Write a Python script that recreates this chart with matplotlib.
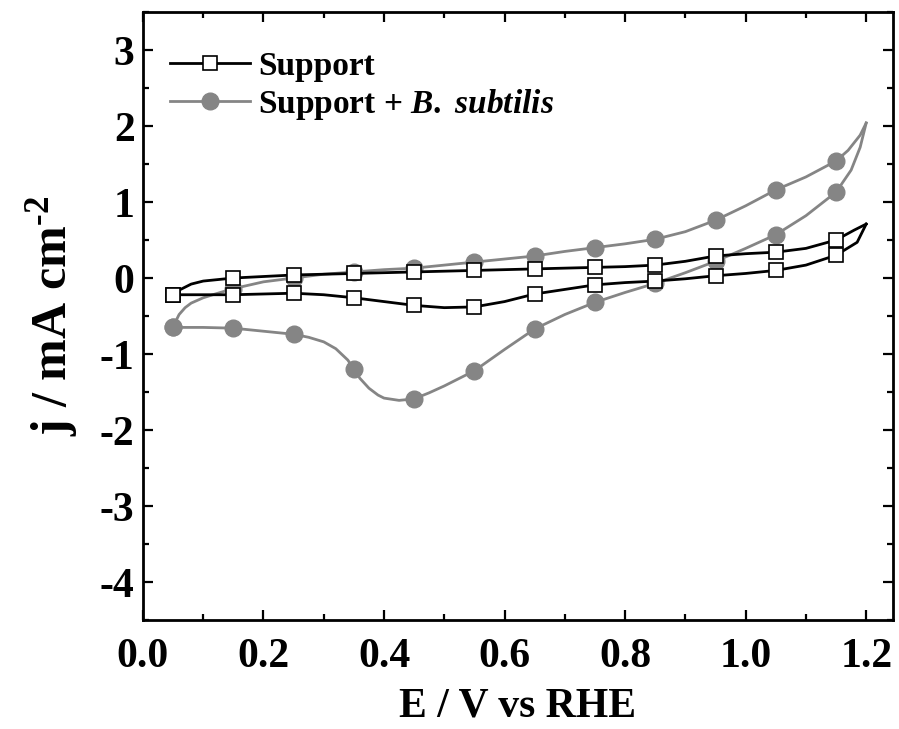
import numpy as np
import matplotlib
matplotlib.use("Agg")
import matplotlib.pyplot as plt
from matplotlib.ticker import MultipleLocator

plt.rcParams['font.family'] = ['Liberation Serif', 'DejaVu Serif']
plt.rcParams['font.weight'] = 'bold'
plt.rcParams['mathtext.fontset'] = 'custom'
plt.rcParams['mathtext.rm'] = 'Liberation Serif:bold'
plt.rcParams['mathtext.bf'] = 'Liberation Serif:bold'
plt.rcParams['mathtext.it'] = 'Liberation Serif:bold:italic'

# ---- data ----
# Support: anodic (upper) branch
sup_fwd_E = [0.05, 0.06, 0.08, 0.10, 0.15, 0.20, 0.25, 0.30, 0.35, 0.40, 0.45, 0.50, 0.55,
             0.60, 0.65, 0.70, 0.75, 0.80, 0.85, 0.90, 0.95, 1.00, 1.05, 1.10, 1.15, 1.18, 1.20]
sup_fwd_j = [-0.22, -0.16, -0.08, -0.04, 0.00, 0.02, 0.04, 0.05, 0.06, 0.07, 0.08, 0.09, 0.10,
             0.11, 0.12, 0.13, 0.14, 0.15, 0.17, 0.22, 0.29, 0.32, 0.34, 0.39, 0.50, 0.63, 0.71]
# Support: cathodic (lower) branch
sup_rev_E = [1.20, 1.185, 1.15, 1.10, 1.05, 1.00, 0.95, 0.90, 0.85, 0.80, 0.75, 0.70, 0.65,
             0.60, 0.55, 0.50, 0.45, 0.40, 0.35, 0.30, 0.25, 0.20, 0.15, 0.10, 0.05]
sup_rev_j = [0.71, 0.47, 0.30, 0.17, 0.10, 0.06, 0.03, -0.01, -0.04, -0.06, -0.09, -0.15, -0.21,
             -0.31, -0.38, -0.39, -0.36, -0.31, -0.26, -0.22, -0.20, -0.21, -0.22, -0.22, -0.22]

# Support + B. subtilis: anodic branch
bs_fwd_E = [0.05, 0.055, 0.06, 0.07, 0.08, 0.10, 0.12, 0.15, 0.20, 0.25, 0.30, 0.35, 0.40, 0.45,
            0.50, 0.55, 0.60, 0.65, 0.70, 0.75, 0.80, 0.85, 0.90, 0.95, 1.00, 1.05, 1.10, 1.15,
            1.17, 1.19, 1.20]
bs_fwd_j = [-0.65, -0.56, -0.48, -0.39, -0.33, -0.26, -0.21, -0.14, -0.05, 0.00, 0.05, 0.08, 0.11,
            0.13, 0.17, 0.21, 0.25, 0.29, 0.35, 0.40, 0.45, 0.51, 0.61, 0.76, 0.95, 1.16, 1.33,
            1.54, 1.68, 1.88, 2.04]
# Support + B. subtilis: cathodic branch
bs_rev_E = [1.20, 1.19, 1.175, 1.15, 1.10, 1.05, 1.00, 0.95, 0.90, 0.85, 0.80, 0.75, 0.70, 0.65,
            0.60, 0.55, 0.50, 0.475, 0.45, 0.425, 0.40, 0.39, 0.375, 0.36, 0.35, 0.34, 0.32,
            0.30, 0.275, 0.25, 0.20, 0.15, 0.10, 0.05]
bs_rev_j = [2.04, 1.72, 1.42, 1.13, 0.82, 0.57, 0.39, 0.22, 0.07, -0.07, -0.19, -0.32, -0.48,
            -0.67, -0.94, -1.22, -1.42, -1.51, -1.59, -1.61, -1.58, -1.54, -1.45, -1.32, -1.20,
            -1.08, -0.93, -0.84, -0.78, -0.74, -0.70, -0.66, -0.65, -0.65]

marker_E = [0.05, 0.15, 0.25, 0.35, 0.45, 0.55, 0.65, 0.75, 0.85, 0.95, 1.05, 1.15]

labels = ["Support", r"Support + $\mathit{B.}$ $\mathit{subtilis}$"]
xlabel = "E / V vs RHE"
ylabel = r"j / mA cm$^{\text{-2}}$"

# ---- figure ----
fig = plt.figure(figsize=(8.99, 7.29), dpi=100)
ax = fig.add_axes([0.159, 0.1495, 0.834, 0.834])

def marks(E):
    E = np.asarray(E)
    return [i for i, e in enumerate(E) if np.any(np.isclose(e, marker_E))]

black = 'black'
gray = '#858585'

for E, j in [(sup_fwd_E, sup_fwd_j), (sup_rev_E, sup_rev_j)]:
    ax.plot(E, j, color=black, lw=2.0, marker='s', markevery=marks(E), ms=10,
            mfc='white', mec=black, mew=1.2, zorder=3, solid_joinstyle='round')
for E, j in [(bs_fwd_E, bs_fwd_j), (bs_rev_E, bs_rev_j)]:
    ax.plot(E, j, color=gray, lw=2.0, marker='o', markevery=marks(E), ms=12,
            mfc=gray, mec=gray, zorder=2, solid_joinstyle='round')

# legend proxies
h1, = ax.plot([], [], color=black, lw=2.0, marker='s', ms=10, mfc='white', mec=black, mew=1.2)
h2, = ax.plot([], [], color=gray, lw=2.0, marker='o', ms=12, mfc=gray, mec=gray)
leg = ax.legend([h1, h2], labels, loc='upper left', frameon=False,
                prop={'family': 'Liberation Serif', 'weight': 'bold', 'size': 24},
                handlelength=2.4, handletextpad=0.25, labelspacing=0.15,
                borderaxespad=0.3, bbox_to_anchor=(0.005, 0.975))

ax.set_xlim(0.0, 1.244)
ax.set_ylim(-4.5, 3.5)
ax.xaxis.set_major_locator(MultipleLocator(0.2))
ax.xaxis.set_minor_locator(MultipleLocator(0.1))
ax.yaxis.set_major_locator(MultipleLocator(1))
ax.yaxis.set_minor_locator(MultipleLocator(0.5))
ax.xaxis.set_major_formatter(matplotlib.ticker.FormatStrFormatter('%.1f'))
ax.yaxis.set_major_formatter(matplotlib.ticker.FuncFormatter(lambda v, p: '%d' % v))

ax.tick_params(which='both', direction='in', top=True, right=True, width=1.6)
ax.tick_params(which='major', length=7)
ax.tick_params(which='minor', length=4)
ax.tick_params(axis='x', which='major', labelsize=30, pad=13)
ax.tick_params(axis='y', which='major', labelsize=30, pad=6)
for lab in ax.get_xticklabels() + ax.get_yticklabels():
    lab.set_fontweight('bold')
for s in ax.spines.values():
    s.set_linewidth(2.0)

ax.set_xlabel(xlabel, fontsize=30, fontweight='bold', labelpad=8)
ax.set_ylabel(ylabel, fontsize=36, fontweight='bold', labelpad=14)

fig.savefig("out.png", dpi=100)
